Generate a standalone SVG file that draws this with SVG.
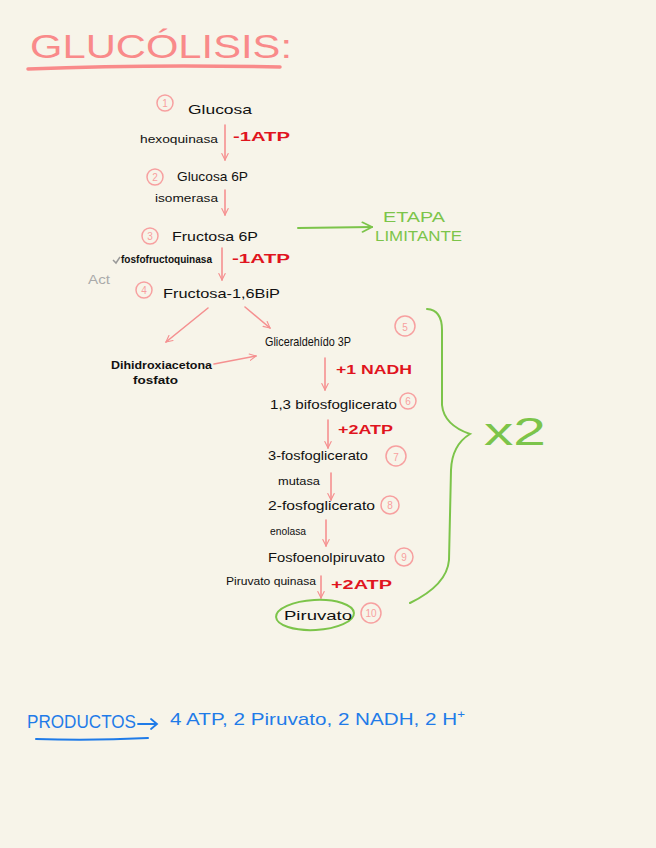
<svg xmlns="http://www.w3.org/2000/svg" width="656" height="848" viewBox="0 0 656 848">
<defs>
<style>
.bk{font-family:"Liberation Sans",Arial,sans-serif;fill:#111;font-size:13px}
.sm{font-size:10px}
.red{font-family:"Liberation Sans",Arial,sans-serif;fill:#e0141e;font-size:13px;font-weight:bold}
.grn{font-family:"Liberation Sans",Arial,sans-serif;fill:#7cc44a}
.blu{font-family:"Liberation Sans",Arial,sans-serif;fill:#1f7be8}
.num{font-family:"Liberation Sans",Arial,sans-serif;fill:#f7a0a0;font-size:10px;text-anchor:middle}
.ring{fill:none;stroke:#f7a0a0;stroke-width:1.5}
.pa{fill:none;stroke:#f59090;stroke-width:1.6;stroke-linecap:round;marker-end:url(#pk)}
.ga{fill:none;stroke:#7cc44a;stroke-width:2;stroke-linecap:round}
</style>
<marker id="pk" viewBox="0 0 10 10" refX="9" refY="5" markerWidth="8" markerHeight="8" orient="auto" markerUnits="userSpaceOnUse">
<path d="M1,1 L9,5 L1,9" fill="none" stroke="#f59090" stroke-width="1.4" stroke-linecap="round"/>
</marker>
<marker id="gk" viewBox="0 0 10 10" refX="9" refY="5" markerWidth="12" markerHeight="12" orient="auto" markerUnits="userSpaceOnUse">
<path d="M1,1 L9,5 L1,9" fill="none" stroke="#7cc44a" stroke-width="1.4" stroke-linecap="round"/>
</marker>
</defs>
<rect width="656" height="848" fill="#f7f4e9"/>

<g id="title">
<text x="30" y="58" font-family="Liberation Sans,Arial,sans-serif" font-size="34" fill="#f98a8a" textLength="262" lengthAdjust="spacingAndGlyphs">GLUCÓLISIS:</text>
<path d="M28,69 Q150,64 280,67" fill="none" stroke="#f98a8a" stroke-width="3.5" stroke-linecap="round"/>
</g>

<g id="connectors">
<path class="pa" d="M225,125 L225,160"/>
<path class="pa" d="M225,190 L225,215"/>
<path class="pa" d="M222,248 L222,280"/>
<path class="pa" d="M208,308 L166,342"/>
<path class="pa" d="M245,307 L270,328"/>
<path class="pa" d="M214,364 L256,356"/>
<path class="pa" d="M325,358 L325,390"/>
<path class="pa" d="M328,420 L328,448"/>
<path class="pa" d="M331,473 L331,500"/>
<path class="pa" d="M326,520 L326,546"/>
<path class="pa" d="M321,576 L321,598"/>
<path class="ga" d="M298,228 L372,227" marker-end="url(#gk)"/>
</g>

<g id="n1"><circle class="ring" cx="165" cy="103" r="8"/><text class="num" x="165" y="107">1</text><text class="bk" x="188" y="114" textLength="64" lengthAdjust="spacingAndGlyphs">Glucosa</text></g>
<g id="e1"><text class="bk sm" x="140" y="143" textLength="78" lengthAdjust="spacingAndGlyphs">hexoquinasa</text><text class="red" x="233" y="141" textLength="57" lengthAdjust="spacingAndGlyphs">-1ATP</text></g>
<g id="n2"><circle class="ring" cx="155" cy="177" r="8"/><text class="num" x="155" y="181">2</text><text class="bk" x="177" y="181" font-size="12" textLength="71" lengthAdjust="spacingAndGlyphs">Glucosa 6P</text></g>
<g id="e2"><text class="bk sm" x="155" y="202" textLength="63" lengthAdjust="spacingAndGlyphs">isomerasa</text></g>
<g id="n3"><circle class="ring" cx="150" cy="236" r="8"/><text class="num" x="150" y="240">3</text><text class="bk" x="172" y="241" textLength="86" lengthAdjust="spacingAndGlyphs">Fructosa 6P</text></g>
<g id="limit"><text class="grn" x="383" y="222" font-size="14" textLength="62" lengthAdjust="spacingAndGlyphs">ETAPA</text><text class="grn" x="375" y="241" font-size="14" textLength="87" lengthAdjust="spacingAndGlyphs">LIMITANTE</text></g>
<g id="e3"><path d="M113,260 L116,263 L120,257" fill="none" stroke="#999" stroke-width="1.5"/><text class="bk sm" x="121" y="263" font-weight="bold" textLength="91" lengthAdjust="spacingAndGlyphs">fosfofructoquinasa</text><text class="red" x="232" y="263" textLength="58" lengthAdjust="spacingAndGlyphs">-1ATP</text><text x="88" y="284" font-family="Liberation Sans,Arial,sans-serif" font-size="12" fill="#aaa" textLength="22" lengthAdjust="spacingAndGlyphs">Act</text></g>
<g id="n4"><circle class="ring" cx="144" cy="290" r="8"/><text class="num" x="144" y="294">4</text><text class="bk" x="163" y="298" textLength="117" lengthAdjust="spacingAndGlyphs">Fructosa-1,6BiP</text></g>
<g id="dhap"><text class="bk sm" x="111" y="369" font-weight="bold" textLength="101" lengthAdjust="spacingAndGlyphs">Dihidroxiacetona</text><text class="bk sm" x="133" y="384" font-weight="bold" textLength="45" lengthAdjust="spacingAndGlyphs">fosfato</text></g>
<g id="n5"><circle class="ring" cx="405" cy="326" r="10"/><text class="num" x="405" y="331" font-size="12">5</text><text class="bk" x="265" y="346" textLength="86" lengthAdjust="spacingAndGlyphs">Gliceraldehído 3P</text><text class="red" x="336" y="374" textLength="76" lengthAdjust="spacingAndGlyphs">+1 NADH</text></g>
<g id="n6"><circle class="ring" cx="408" cy="401" r="8"/><text class="num" x="408" y="405">6</text><text class="bk" x="270" y="409" textLength="127" lengthAdjust="spacingAndGlyphs">1,3 bifosfoglicerato</text><text class="red" x="338" y="434" textLength="55" lengthAdjust="spacingAndGlyphs">+2ATP</text></g>
<g id="n7"><circle class="ring" cx="396" cy="456" r="10"/><text class="num" x="396" y="461" font-size="12">7</text><text class="bk" x="268" y="460" font-size="12" textLength="100" lengthAdjust="spacingAndGlyphs">3-fosfoglicerato</text><text class="bk sm" x="278" y="485" textLength="42" lengthAdjust="spacingAndGlyphs">mutasa</text></g>
<g id="n8"><circle class="ring" cx="390" cy="505" r="9"/><text class="num" x="390" y="509" font-size="11">8</text><text class="bk" x="268" y="510" textLength="107" lengthAdjust="spacingAndGlyphs">2-fosfoglicerato</text><text class="bk sm" x="270" y="535" textLength="36" lengthAdjust="spacingAndGlyphs">enolasa</text></g>
<g id="n9"><circle class="ring" cx="404" cy="557" r="9"/><text class="num" x="404" y="561" font-size="11">9</text><text class="bk" x="268" y="562" textLength="117" lengthAdjust="spacingAndGlyphs">Fosfoenolpiruvato</text><text class="bk sm" x="226" y="585" textLength="90" lengthAdjust="spacingAndGlyphs">Piruvato quinasa</text><text class="red" x="331" y="589" font-size="15" textLength="61" lengthAdjust="spacingAndGlyphs">+2ATP</text></g>
<g id="n10"><ellipse cx="315" cy="615" rx="39" ry="15" fill="none" stroke="#7cc44a" stroke-width="2" transform="rotate(-3 315 615)"/><text class="bk" x="284" y="620" font-size="16" textLength="68" lengthAdjust="spacingAndGlyphs">Piruvato</text><circle class="ring" cx="371" cy="613" r="10"/><text class="num" x="371" y="617" font-size="9">10</text></g>

<g id="brace">
<path class="ga" d="M427,309 Q442,310 442,330 L442,405 Q444,425 470,434 Q452,445 451,470 L449,560 Q447,585 410,603"/>
<text class="grn" x="484" y="445" font-size="38" textLength="62" lengthAdjust="spacingAndGlyphs">x2</text>
</g>

<g id="productos">
<text class="blu" x="27" y="728" font-size="18" textLength="109" lengthAdjust="spacingAndGlyphs">PRODUCTOS</text>
<path d="M36,739 Q90,741 148,738" fill="none" stroke="#1f7be8" stroke-width="2" stroke-linecap="round"/>
<path d="M138,724 L157,724 M151,719 L157,724 L151,729" fill="none" stroke="#1f7be8" stroke-width="1.8" stroke-linecap="round"/>
<text class="blu" x="170" y="725" font-size="17" textLength="295" lengthAdjust="spacingAndGlyphs">4 ATP, 2 Piruvato, 2 NADH, 2 H<tspan font-size="11" dy="-7">+</tspan></text>
</g>
</svg>
